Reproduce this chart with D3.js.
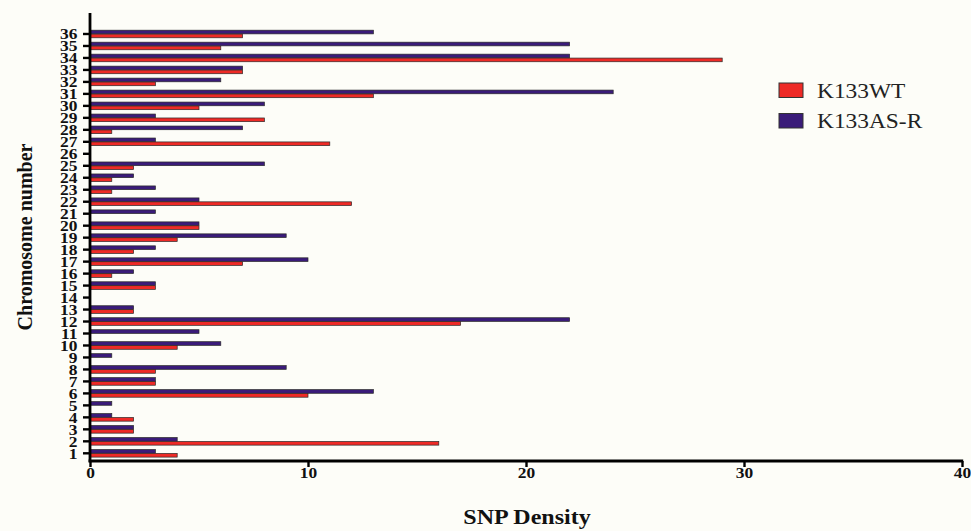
<!DOCTYPE html>
<html><head><meta charset="utf-8">
<script src="https://cdn.jsdelivr.net/npm/d3@7"></script>
<style>body{margin:0;background:#fdfdf8}svg{display:block}</style>
</head><body><svg id="c" width="971" height="531"></svg>
<script>
const chromosomes = d3.range(1, 37);
const k133WT  = [4,16,2,2,0,10,3,3,0,4,0,17,2,0,3,1,7,2,4,5,0,12,1,1,2,0,11,1,8,5,13,3,7,29,6,7];
const k133ASR = [3,4,2,1,1,13,3,9,1,6,5,22,2,0,3,2,10,3,9,5,3,5,3,2,8,0,3,7,3,8,24,6,7,22,22,13];
const xTicks = [0, 10, 20, 30, 40];
const seriesNames = ["K133WT", "K133AS-R"];
const seriesColors = ["#ee2a26", "#3a1b79"];

const svg = d3.select("#c");
svg.append("rect").attr("width", 971).attr("height", 531).attr("fill", "#fdfdf8");
const FONT = "'Liberation Serif','Times New Roman',serif";
const SX = 1.2;

const x = d3.scaleLinear().domain([0, 40]).range([90, 962]);
const y = d3.scaleBand().domain(chromosomes.slice().reverse().map(String)).range([28, 459.3]).padding(0);
const bw = y.bandwidth();
const pairH = 7.6;
const sub = d3.scaleBand().domain(["AS", "WT"]).range([0, pairH]).paddingInner(0.06);

const rows = chromosomes.map((c, i) => ({c: String(c), WT: k133WT[i], AS: k133ASR[i]}));
const bars = [];
rows.forEach(r => {
  if (r.AS > 0) bars.push({c: r.c, key: "AS", v: r.AS, color: seriesColors[1]});
  if (r.WT > 0) bars.push({c: r.c, key: "WT", v: r.WT, color: seriesColors[0]});
});

svg.append("g").selectAll("rect").data(bars).join("rect")
  .attr("x", x(0))
  .attr("y", d => y(d.c) + bw / 2 - pairH / 2 + sub(d.key))
  .attr("width", d => x(d.v) - x(0))
  .attr("height", sub.bandwidth())
  .attr("fill", d => d.color)
  .attr("stroke", "#2a2a2a")
  .attr("stroke-width", 0.7);

// Y axis
const yAxis = svg.append("g").attr("transform", `translate(${x(0)},0)`)
  .call(d3.axisLeft(y).tickSize(7).tickSizeOuter(0));
yAxis.select(".domain").remove();
yAxis.selectAll(".tick line").attr("stroke", "#000").attr("stroke-width", 2.4);
yAxis.selectAll(".tick text")
  .attr("x", -10.5).attr("dy", "0.36em")
  .attr("transform", `scale(${SX},1)`)
  .style("font-family", FONT).style("font-weight", "bold").style("font-size", "14.5px").attr("fill", "#111");

// X axis
const xAxis = svg.append("g").attr("transform", "translate(0,461)")
  .call(d3.axisBottom(x).tickValues(xTicks).tickFormat(d3.format("d")).tickSize(6).tickSizeOuter(0));
xAxis.select(".domain").remove();
xAxis.selectAll(".tick line").attr("stroke", "#000").attr("stroke-width", 2.4);
xAxis.selectAll(".tick text")
  .attr("y", 17).attr("dy", 0)
  .attr("transform", `scale(${SX},1)`)
  .style("font-family", FONT).style("font-weight", "bold").style("font-size", "14.5px").attr("fill", "#111");

// axis lines
svg.append("line").attr("x1", x(0)).attr("x2", x(0)).attr("y1", 13).attr("y2", 462.3)
  .attr("stroke", "#000").attr("stroke-width", 2.8);
svg.append("line").attr("x1", x(0) - 1.4).attr("x2", x(40) + 1.2).attr("y1", 461).attr("y2", 461)
  .attr("stroke", "#000").attr("stroke-width", 2.8);

// titles
svg.append("text").attr("transform", `translate(527,524) scale(${SX},1)`)
  .attr("text-anchor", "middle").style("font-family", FONT).style("font-weight", "bold")
  .style("font-size", "20px").attr("fill", "#111").text("SNP Density");
svg.append("text").attr("transform", "translate(32,237) rotate(-90)")
  .attr("text-anchor", "middle").style("font-family", FONT).style("font-weight", "bold")
  .style("font-size", "20px").attr("fill", "#111").text("Chromosome number");

// legend
const lg = svg.append("g").selectAll("g").data(seriesNames.map((n, i) => ({n, color: seriesColors[i], i})))
  .join("g").attr("transform", d => `translate(779,${83 + d.i * 30.5})`);
lg.append("rect").attr("width", 24).attr("height", 14.5)
  .attr("fill", d => d.color).attr("stroke", "#333").attr("stroke-width", 1);
lg.append("text").attr("transform", `translate(38,14.5) scale(1.17,1)`)
  .style("font-family", FONT).style("font-size", "20px").attr("fill", "#222").text(d => d.n);
</script></body></html>
